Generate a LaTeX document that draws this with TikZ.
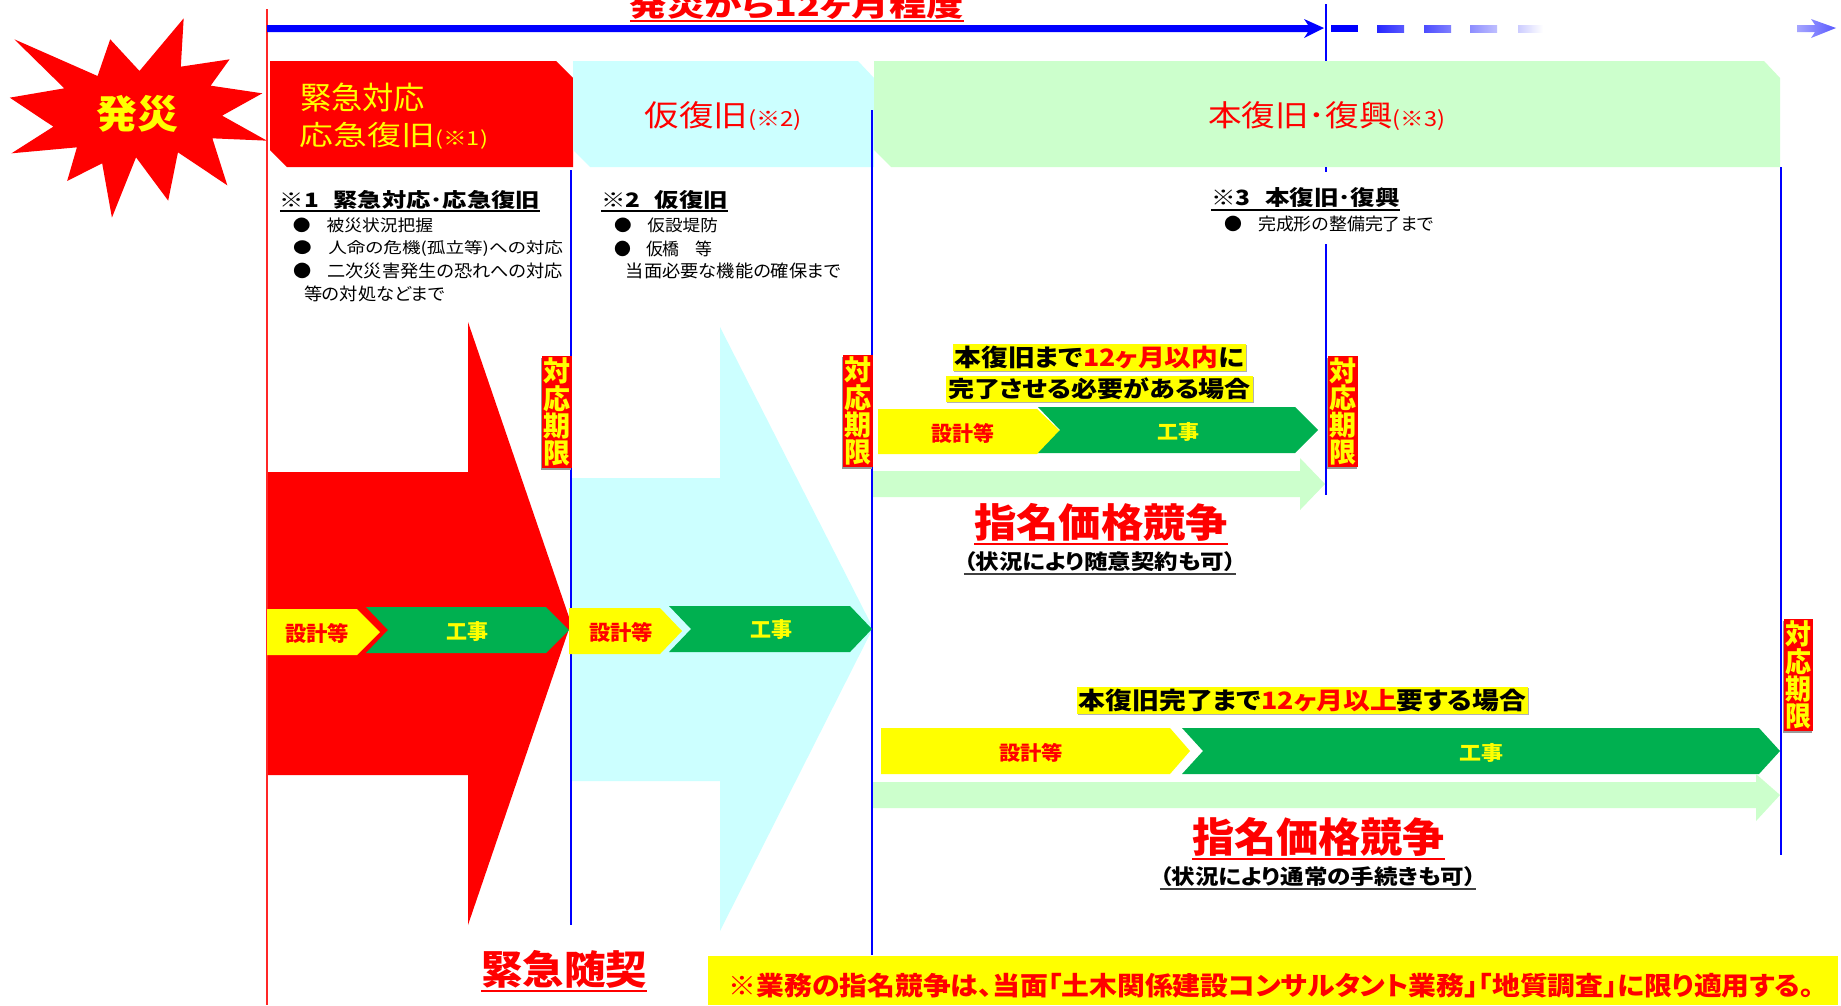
\documentclass[tikz,border=0pt]{standalone}
\usepackage{fontspec}
\usepackage{graphicx}
\setmainfont[RawFeature=+palt]{Noto Sans CJK JP}
\usetikzlibrary{shadows}
\definecolor{hdgreen}{HTML}{CCFFCC}
\definecolor{hdcyan}{HTML}{CCFFFF}
\definecolor{worksgreen}{HTML}{00B050}
\definecolor{pureblue}{HTML}{0000FF}
\definecolor{purered}{HTML}{FF0000}
\definecolor{pureyel}{HTML}{FFFF00}
\tikzset{
  tx/.style={inner sep=0pt,outer sep=0pt},
  hilite/.style={tx,fill=pureyel,inner xsep=2pt,inner ysep=2pt,copy shadow={shadow xshift=1pt,shadow yshift=-1pt,fill=black!30,draw=none}},
  limitbox/.style={tx,fill=purered,text=pureyel,inner xsep=1.5pt,inner ysep=2pt,copy shadow={shadow xshift=-1pt,shadow yshift=-1.5pt,fill=black!40,draw=none}},
  vline/.style={pureblue,line width=2pt},
  ul/.style={line width=2pt},
  yelbar/.style={fill=pureyel},
  grnbar/.style={fill=worksgreen},
}
% name, x1,y1,x2,y2 (ink box), style, text
\newcommand{\TXT}[7]{\node[tx,#6] (#1) at ({(#2+#4)/2},{(#3+#5)/2}) {\resizebox*{\the\numexpr#4-#2\relax pt}{\the\numexpr#5-#3\relax pt}{#7}};}
\newcommand{\ULINE}[3]{\draw[ul,#2] ([yshift=-#3pt]#1.south west) -- ([yshift=-#3pt]#1.south east);}
\newcommand{\rr}[1]{\textcolor{purered}{#1}}
\newcommand{\smallnote}[1]{{\fontsize{7}{9}\selectfont\mdseries #1}}
\newcommand{\stackfour}{\vbox{\offinterlineskip\baselineskip=0pt\lineskip=0.04em\hbox{対}\hbox{応}\hbox{期}\hbox{限}}}
\begin{document}
\begin{tikzpicture}[x=1pt,y=-1pt]
\useasboundingbox (0,0) rectangle (1841,1005);
\clip (0,0) rectangle (1841,1005);
\fill[white] (0,0) rectangle (1841,1005);

% starburst
\begin{scope}[xscale=0.574,yscale=0.3333]
\fill[purered] (320,55)--(315,200)--(400,178)--(367,257)--(457,280)--(387,347)--(465,422)--(370,415)--(396,556)--(310,457)--(293,602)--(237,472)--(195,653)--(178,490)--(117,543)--(134,442)--(20,460)--(93,380)--(17,293)--(112,265)--(25,118)--(170,228)--(192,118)--(243,213)--cycle;
\end{scope}
\TXT{hassai}{96}{95}{178}{132}{text=pureyel,font=\bfseries}{発災}

% big arrows
\fill[purered] (268,472)--(468,472)--(468,322)--(571,623)--(468,925)--(468,775)--(268,775)--cycle;
\fill[hdcyan] (571,478)--(720,478)--(720,327)--(873,628)--(720,931)--(720,781)--(571,781)--cycle;

% header bands
\fill[purered] (270,61)--(556,61)--(573,78)--(573,167)--(287,167)--(270,150)--cycle;
\fill[hdcyan] (573,61)--(858,61)--(874,78)--(874,167)--(590,167)--(573,150)--cycle;
\fill[hdgreen] (874,61)--(1764,61)--(1780,78)--(1780,167)--(891,167)--(874,150)--cycle;
\TXT{hA}{300}{83}{425}{112}{text=pureyel}{緊急対応}
\TXT{hB}{300}{122}{488}{149}{text=pureyel}{応急復旧\smallnote{(※1)}}
\TXT{hC}{645}{102}{802}{131}{text=purered}{仮復旧\smallnote{(※2)}}
\TXT{hD}{1208}{102}{1445}{131}{text=purered}{本復旧･復興\smallnote{(※3)}}

% timeline
\coordinate (redtop) at (267,9);
\coordinate (redbot) at (267,1005);
\draw[purered!85,line width=2pt] (redtop) -- (redbot);
\fill[pureblue] (267,25)--(1308,25)--(1304,19)--(1324,28)--(1304,38)--(1308,32)--(267,32)--cycle;
\fill[pureblue] (1331,25) rectangle (1358,32);
\shade[left color=pureblue!85,right color=pureblue!65] (1377,25) rectangle (1404,32);
\shade[left color=pureblue!70,right color=pureblue!50] (1424,25) rectangle (1451,32);
\shade[left color=pureblue!45,right color=pureblue!25] (1470,25) rectangle (1497,32);
\shade[left color=pureblue!20,right color=white] (1518,25) rectangle (1543,32);
\shade[left color=pureblue!35,right color=pureblue!65] (1797,25)--(1815,25)--(1811,19)--(1836,28)--(1811,38)--(1815,32)--(1797,32)--cycle;
\TXT{title}{630}{-8}{964}{19}{text=purered,font=\bfseries}{発災から12ヶ月程度}
\ULINE{title}{purered}{2}

% blue verticals
\coordinate (a1) at (571,170); \coordinate (a2) at (571,925);
\coordinate (b1) at (872,110); \coordinate (b2) at (872,955);
\coordinate (c1) at (1326,4);  \coordinate (c2) at (1326,61);
\coordinate (c3) at (1326,167);\coordinate (c4) at (1326,172);
\coordinate (c5) at (1326,244);\coordinate (c6) at (1326,495);
\coordinate (d1) at (1781,167);\coordinate (d2) at (1781,855);
\draw[vline] (a1)--(a2);
\draw[vline] (b1)--(b2);
\draw[vline] (c1)--(c2);
\draw[vline] (c3)--(c4);
\draw[vline] (c5)--(c6);
\draw[vline] (d1)--(d2);

% notes
\TXT{n1}{280}{190}{540}{209}{font=\bfseries}{※1\hspace{0.6em}緊急対応･応急復旧}
\ULINE{n1}{black}{1.5}
\TXT{n1a}{293}{218}{433}{233}{}{●\hspace{0.9em}被災状況把握}
\TXT{n1b}{293}{241}{563}{257}{}{●\hspace{0.9em}人命の危機(孤立等)への対応}
\TXT{n1c}{293}{263}{563}{279}{}{●\hspace{0.9em}二次災害発生の恐れへの対応}
\TXT{n1d}{304}{286}{445}{302}{}{等の対処などまで}
\TXT{n2}{601}{190}{728}{209}{font=\bfseries}{※2\hspace{0.6em}仮復旧}
\ULINE{n2}{black}{1.5}
\TXT{n2a}{614}{218}{718}{233}{}{●\hspace{0.9em}仮設堤防}
\TXT{n2b}{614}{241}{712}{257}{}{●\hspace{0.9em}仮橋\hspace{0.9em}等}
\TXT{n2c}{626}{263}{841}{279}{}{当面必要な機能の確保まで}
\TXT{n3}{1211}{188}{1400}{208}{font=\bfseries}{※3\hspace{0.6em}本復旧･復興}
\ULINE{n3}{black}{1.5}
\TXT{n3a}{1224}{216}{1434}{232}{}{●\hspace{0.9em}完成形の整備完了まで}

% deadline boxes
\TXT{lim1}{543}{358}{570}{466}{limitbox,font=\bfseries}{\stackfour}
\TXT{lim2}{844}{357}{871}{465}{limitbox,font=\bfseries}{\stackfour}
\TXT{lim3}{1329}{358}{1356}{465}{limitbox,font=\bfseries}{\stackfour}
\TXT{lim4}{1785}{621}{1811}{729}{limitbox,font=\bfseries}{\stackfour}

% red row
\fill[yelbar] (267,609)--(357,609)--(380,632)--(357,655)--(267,655)--cycle;
\fill[grnbar] (366,607)--(546,607)--(569,630)--(546,653)--(366,653)--(388,630)--cycle;
\TXT{s1}{285}{623}{349}{643}{text=purered,font=\bfseries}{設計等}
\TXT{k1}{446}{622}{488}{642}{text=pureyel,font=\bfseries}{工事}
% cyan row
\fill[yelbar] (569,608)--(660,608)--(682,631)--(660,654)--(569,654)--cycle;
\fill[grnbar] (669,606)--(850,606)--(872,629)--(850,652)--(669,652)--(691,629)--cycle;
\TXT{s2}{589}{622}{653}{642}{text=purered,font=\bfseries}{設計等}
\TXT{k2}{750}{620}{792}{640}{text=pureyel,font=\bfseries}{工事}

% upper case
\TXT{u1}{955}{346}{1244}{369}{hilite,font=\bfseries}{本復旧まで\rr{12ヶ月以内}に}
\TXT{u2}{948}{378}{1251}{400}{hilite,font=\bfseries}{完了させる必要がある場合}
\fill[yelbar] (878,409)--(1037,409)--(1060,431)--(1037,454)--(878,454)--cycle;
\fill[grnbar] (1038,407)--(1295,407)--(1318,430)--(1295,453)--(1038,453)--(1060,430)--cycle;
\TXT{s3}{931}{423}{994}{443}{text=purered,font=\bfseries}{設計等}
\TXT{k3}{1157}{422}{1199}{441}{text=pureyel,font=\bfseries}{工事}
\fill[hdgreen] (873,471)--(1300,471)--(1300,458)--(1325,484)--(1300,510)--(1300,497)--(873,497)--cycle;
\TXT{c1t}{974}{503}{1228}{541}{text=purered,font=\bfseries}{指名価格競争}
\ULINE{c1t}{purered}{2.5}
\TXT{c1s}{964}{552}{1236}{572}{font=\bfseries}{（状況により随意契約も可）}
\ULINE{c1s}{black!75}{2}

% lower case
\TXT{l1}{1079}{689}{1526}{712}{hilite,font=\bfseries}{本復旧完了まで\rr{12ヶ月以上}要する場合}
\fill[yelbar] (881,728)--(1170,728)--(1190,751)--(1170,774)--(881,774)--cycle;
\fill[grnbar] (1182,728)--(1759,728)--(1780,751)--(1759,774)--(1182,774)--(1203,751)--cycle;
\TXT{s4}{999}{743}{1063}{762}{text=purered,font=\bfseries}{設計等}
\TXT{k4}{1459}{743}{1503}{762}{text=pureyel,font=\bfseries}{工事}
\fill[hdgreen] (873,782)--(1756,782)--(1756,774)--(1780,795)--(1756,821)--(1756,808)--(873,808)--cycle;
\TXT{c2t}{1192}{817}{1445}{856}{text=purered,font=\bfseries}{指名価格競争}
\ULINE{c2t}{purered}{2.5}
\TXT{c2s}{1160}{867}{1476}{887}{font=\bfseries}{（状況により通常の手続きも可）}
\ULINE{c2s}{black!75}{2}

% bottom
\TXT{kin}{481}{950}{647}{988}{text=purered,font=\bfseries}{緊急随契}
\ULINE{kin}{purered}{2.5}
\fill[pureyel] (708,956) rectangle (1838,1005);
\TXT{foot}{729}{973}{1814}{998}{text=purered,font=\bfseries}{※業務の指名競争は、当面「土木関係建設コンサルタント業務」「地質調査」に限り適用する。}
\end{tikzpicture}
\end{document}
